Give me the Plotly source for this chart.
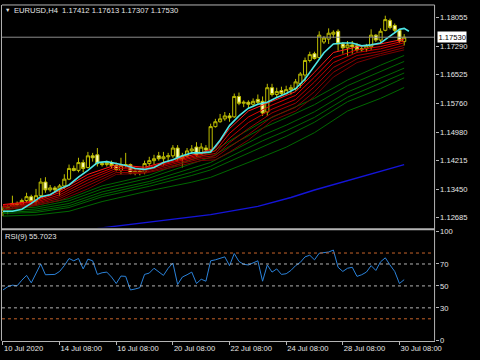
import plotly.graph_objects as go

# ---------------- data ----------------
SYMBOL = "EURUSD,H4"
BAR_IDX = list(range(86))
OPEN = [1.12835, 1.12913, 1.12991, 1.13070, 1.13043, 1.13148, 1.13252, 1.13122, 1.13278, 1.13644,
        1.13435, 1.13487, 1.13435, 1.13539, 1.13722, 1.14009, 1.13957, 1.14166, 1.14035, 1.14348,
        1.14375, 1.14140, 1.14113, 1.14166, 1.14087, 1.13957, 1.14087, 1.14113, 1.13879, 1.13931,
        1.13905, 1.14140, 1.14218, 1.14348, 1.14270, 1.14322, 1.14348, 1.14557, 1.14270, 1.14348,
        1.14479, 1.14583, 1.14401, 1.14557, 1.14505, 1.15131, 1.15262, 1.15340, 1.15419, 1.15393,
        1.15941, 1.15758, 1.15784, 1.15732, 1.15862, 1.15810, 1.15523, 1.16175, 1.15993, 1.16097,
        1.16019, 1.16123, 1.16149, 1.16280, 1.16515, 1.16906, 1.17089, 1.16985, 1.17402, 1.17480,
        1.17611, 1.17689, 1.17350, 1.17246, 1.17324, 1.17298, 1.17193, 1.17219, 1.17272, 1.17585,
        1.17454, 1.17715, 1.17976, 1.17846, 1.17715, 1.17412]
HIGH = [1.12991, 1.13017, 1.13278, 1.13122, 1.13200, 1.13357, 1.13304, 1.13461, 1.13748, 1.13774,
        1.13566, 1.13539, 1.13592, 1.13853, 1.14113, 1.14087, 1.14296, 1.14244, 1.14453, 1.14427,
        1.14557, 1.14192, 1.14218, 1.14218, 1.14166, 1.14296, 1.14427, 1.14140, 1.14009, 1.13983,
        1.14218, 1.14322, 1.14375, 1.14453, 1.14453, 1.14427, 1.14635, 1.14635, 1.14427, 1.14557,
        1.14635, 1.14714, 1.14688, 1.14635, 1.15210, 1.15340, 1.15471, 1.15523, 1.15497, 1.16019,
        1.16045, 1.15836, 1.15836, 1.15888, 1.15993, 1.15941, 1.16280, 1.16280, 1.16175, 1.16202,
        1.16228, 1.16254, 1.16410, 1.16593, 1.16985, 1.17141, 1.17141, 1.17689, 1.17559, 1.17768,
        1.17715, 1.17741, 1.17402, 1.17428, 1.17428, 1.17376, 1.17272, 1.17350, 1.17741, 1.17611,
        1.17768, 1.18107, 1.18029, 1.17898, 1.17741, 1.17613]
LOW = [1.12730, 1.12782, 1.12965, 1.12991, 1.12991, 1.13096, 1.13043, 1.13017, 1.13226, 1.13357,
       1.13383, 1.13357, 1.13278, 1.13461, 1.13696, 1.13931, 1.13905, 1.13905, 1.14009, 1.14192,
       1.14061, 1.14061, 1.14061, 1.14009, 1.13931, 1.13853, 1.14035, 1.13853, 1.13826, 1.13826,
       1.13853, 1.14061, 1.14113, 1.14218, 1.14087, 1.14192, 1.14296, 1.14218, 1.14035, 1.14296,
       1.14401, 1.14322, 1.14375, 1.14427, 1.14427, 1.15105, 1.15236, 1.15288, 1.15262, 1.15367,
       1.15706, 1.15654, 1.15627, 1.15654, 1.15732, 1.15419, 1.15419, 1.15941, 1.15914, 1.15967,
       1.15993, 1.15993, 1.16097, 1.16175, 1.16332, 1.16854, 1.16932, 1.16958, 1.17350, 1.17350,
       1.17507, 1.17167, 1.17089, 1.17037, 1.17089, 1.17141, 1.17141, 1.17141, 1.17193, 1.17402,
       1.17350, 1.17689, 1.17741, 1.17663, 1.17376, 1.17307]
CLOSE = [1.12913, 1.12965, 1.13070, 1.13043, 1.13148, 1.13252, 1.13122, 1.13278, 1.13644, 1.13435,
         1.13487, 1.13435, 1.13539, 1.13722, 1.14009, 1.13957, 1.14166, 1.14009, 1.14348, 1.14296,
         1.14140, 1.14113, 1.14166, 1.14087, 1.13983, 1.14087, 1.14113, 1.13879, 1.13931, 1.13905,
         1.14140, 1.14218, 1.14270, 1.14270, 1.14322, 1.14348, 1.14557, 1.14270, 1.14348, 1.14479,
         1.14531, 1.14375, 1.14583, 1.14505, 1.15131, 1.15262, 1.15340, 1.15419, 1.15367, 1.15941,
         1.15758, 1.15784, 1.15732, 1.15810, 1.15784, 1.15497, 1.16175, 1.15993, 1.16071, 1.16019,
         1.16123, 1.16175, 1.16332, 1.16541, 1.16906, 1.17063, 1.16958, 1.17585, 1.17507, 1.17637,
         1.17663, 1.17350, 1.17246, 1.17324, 1.17272, 1.17193, 1.17219, 1.17298, 1.17585, 1.17454,
         1.17689, 1.18002, 1.17794, 1.17715, 1.17428, 1.17530]

# fast (cyan) moving average, shifted one bar forward
CYAN_X = [0, 2, 4, 6, 8, 10, 12, 14, 16, 18, 20, 22, 24, 26, 28, 30, 32, 34, 36, 38, 40, 42, 44,
          46, 48, 50, 52, 54, 56, 58, 60, 62, 64, 66, 68, 70, 72, 74, 76, 78, 80, 82, 84, 85, 86]
CYAN = [1.12861, 1.12861, 1.12913, 1.13070, 1.13252, 1.13304, 1.13461, 1.13566, 1.13774, 1.13957,
        1.14166, 1.14192, 1.14140, 1.14087, 1.14009, 1.13983, 1.14035, 1.14166, 1.14244, 1.14348,
        1.14427, 1.14427, 1.14453, 1.14766, 1.15158, 1.15419, 1.15627, 1.15732, 1.15784, 1.15914,
        1.16019, 1.16149, 1.16410, 1.16776, 1.17115, 1.17350, 1.17376, 1.17376, 1.17298, 1.17324,
        1.17376, 1.17559, 1.17741, 1.17768, 1.17689]

# short-term (red) moving-average ribbon
RED_X = [0, 6, 12, 18, 24, 30, 36, 42, 45, 48, 52, 57, 62, 66, 70, 75, 80, 85]
RED_1 = [1.1304, 1.1312, 1.1341, 1.1385, 1.1411, 1.1404, 1.1424, 1.1443, 1.1456, 1.1508, 1.1555, 1.1581, 1.1607, 1.1659, 1.1712, 1.1727, 1.1735, 1.1748]
RED_2 = [1.1302, 1.1310, 1.1336, 1.1377, 1.1406, 1.1401, 1.1420, 1.1439, 1.1448, 1.1495, 1.1539, 1.1571, 1.1597, 1.1646, 1.1698, 1.1719, 1.1728, 1.1743]
RED_3 = [1.1298, 1.1307, 1.1330, 1.1370, 1.1401, 1.1398, 1.1417, 1.1435, 1.1441, 1.1482, 1.1524, 1.1560, 1.1586, 1.1633, 1.1685, 1.1712, 1.1722, 1.1738]
RED_4 = [1.1296, 1.1304, 1.1325, 1.1362, 1.1396, 1.1394, 1.1413, 1.1431, 1.1435, 1.1470, 1.1508, 1.1550, 1.1576, 1.1620, 1.1672, 1.1704, 1.1715, 1.1731]
RED_5 = [1.1291, 1.1302, 1.1320, 1.1354, 1.1390, 1.1390, 1.1409, 1.1427, 1.1430, 1.1458, 1.1492, 1.1539, 1.1565, 1.1607, 1.1659, 1.1695, 1.1709, 1.1725]
RED_6 = [1.1289, 1.1299, 1.1315, 1.1346, 1.1385, 1.1388, 1.1404, 1.1422, 1.1424, 1.1445, 1.1477, 1.1529, 1.1555, 1.1594, 1.1646, 1.1685, 1.1704, 1.1719]

# long-term (green) moving-average ribbon
GREEN_X = [0, 7, 14, 21, 31, 40, 44, 50, 55, 60, 66, 73, 80, 85]
GREEN_1 = [1.1297, 1.1302, 1.1320, 1.1354, 1.1383, 1.1424, 1.1443, 1.1490, 1.1526, 1.1555, 1.1589, 1.1638, 1.1678, 1.1704]
GREEN_2 = [1.1292, 1.1297, 1.1314, 1.1346, 1.1375, 1.1414, 1.1431, 1.1475, 1.1509, 1.1537, 1.1572, 1.1623, 1.1662, 1.1688]
GREEN_3 = [1.1287, 1.1292, 1.1307, 1.1338, 1.1366, 1.1401, 1.1417, 1.1457, 1.1490, 1.1517, 1.1553, 1.1606, 1.1643, 1.1670]
GREEN_4 = [1.1283, 1.1287, 1.1301, 1.1331, 1.1360, 1.1391, 1.1407, 1.1444, 1.1475, 1.1502, 1.1538, 1.1592, 1.1629, 1.1657]
GREEN_5 = [1.1280, 1.1283, 1.1296, 1.1325, 1.1353, 1.1382, 1.1397, 1.1431, 1.1460, 1.1487, 1.1525, 1.1580, 1.1615, 1.1644]
GREEN_6 = [1.1273, 1.1276, 1.1286, 1.1312, 1.1341, 1.1364, 1.1377, 1.1406, 1.1432, 1.1458, 1.1497, 1.1555, 1.1589, 1.1618]

# slow (blue) moving average
BLUE_X = [20, 33, 44, 54, 61, 66, 75, 85]
BLUE = [1.1240, 1.1260, 1.1277, 1.1299, 1.1323, 1.1343, 1.1375, 1.1411]

# RSI(9)
RSI_PERIOD = 9
RSI = [46.3, 49.2, 50.7, 50.1, 55.2, 59.6, 52.8, 61.1, 70.0, 60.2,
       60.2, 60.5, 63.2, 68.5, 75.0, 72.9, 75.0, 65.5, 74.4, 72.9,
       60.5, 62.0, 62.6, 58.1, 52.2, 59.0, 58.7, 46.3, 47.2, 48.4,
       60.5, 61.7, 66.1, 63.2, 59.6, 66.1, 70.9, 51.3, 58.1, 60.2,
       62.6, 52.2, 56.1, 54.3, 72.9, 73.8, 75.0, 76.5, 68.5, 79.5,
       72.3, 69.7, 69.1, 70.9, 72.9, 54.3, 69.1, 62.6, 65.5, 60.5,
       61.1, 64.1, 68.5, 71.5, 76.5, 78.0, 73.8, 79.8, 80.4, 80.9,
       82.7, 67.0, 63.2, 66.1, 67.0, 58.7, 60.2, 62.6, 68.5, 64.1,
       72.0, 75.6, 69.1, 63.2, 52.2, 55.7023]
RSI_LEVELS_OUTER = [80, 20]
RSI_LEVELS_INNER = [70, 50, 30]

# axis labels
PRICE_TICKS = [1.18055, 1.17290, 1.16525, 1.15760, 1.14980, 1.14215, 1.13450, 1.12685]
RSI_TICKS = [100, 70, 50, 30, 0]
TIME_TICK_IDX = [0, 12, 24, 36, 48, 60, 72, 84]
TIME_TICK_TEXT = ["10 Jul 2020", "14 Jul 08:00", "16 Jul 08:00", "20 Jul 08:00",
                  "22 Jul 08:00", "24 Jul 08:00", "28 Jul 08:00", "30 Jul 08:00"]
BID = CLOSE[-1]

# ---------------- styling ----------------
W, H = 480, 360
FONT = "Liberation Sans, Arial, sans-serif"
FS = 7.6
TXT = "#e6e6e6"
FRAME = "#b4b4b4"

XL, XR = 2 / W, 441 / W
MAIN_DOM = [1 - 229 / H, 1 - 1 / H]
RSI_DOM = [1 - 345.4 / H, 1 - 232.9 / H]
X_RANGE = [-0.21, 91.44]
Y_RANGE = [1.124306, 1.183951]

fig = go.Figure()

fig.add_trace(go.Candlestick(
    x=BAR_IDX, open=OPEN, high=HIGH, low=LOW, close=CLOSE,
    increasing=dict(line=dict(color="#bdbd00", width=1), fillcolor="#000000"),
    decreasing=dict(line=dict(color="#bdbd00", width=1), fillcolor="#ffffc0"),
    whiskerwidth=0, xaxis="x", yaxis="y", hoverinfo="skip"))

fig.add_trace(go.Scatter(x=BLUE_X, y=BLUE, mode="lines",
                         line=dict(color="#1414d8", width=1.4), xaxis="x", yaxis="y"))

for g in [GREEN_1, GREEN_2, GREEN_3, GREEN_4, GREEN_5, GREEN_6]:
    fig.add_trace(go.Scatter(x=GREEN_X, y=g, mode="lines", line=dict(color="#006800", width=1),
                             xaxis="x", yaxis="y"))

red_cols = ["#ff1a1a", "#e00000", "#c00000", "#a00000", "#8c0000", "#780000"]
for r, c in zip([RED_1, RED_2, RED_3, RED_4, RED_5, RED_6], red_cols):
    fig.add_trace(go.Scatter(x=RED_X, y=r, mode="lines", line=dict(color=c, width=1),
                             xaxis="x", yaxis="y"))

fig.add_trace(go.Scatter(x=CYAN_X, y=CYAN, mode="lines",
                         line=dict(color="#4ee6e6", width=1.6), xaxis="x", yaxis="y"))

fig.add_trace(go.Scatter(x=BAR_IDX, y=RSI, mode="lines",
                         line=dict(color="#2b82d9", width=1), xaxis="x2", yaxis="y2"))

shapes = []
# bid line
shapes.append(dict(type="line", xref="paper", yref="y", x0=XL, x1=XR, y0=BID, y1=BID,
                   line=dict(color="#8c8c8c", width=1)))
# RSI levels
for lv in RSI_LEVELS_OUTER:
    shapes.append(dict(type="line", xref="paper", yref="y2", x0=XL, x1=XR, y0=lv, y1=lv,
                       line=dict(color="#c8642a", width=1, dash="dot")))
for lv in RSI_LEVELS_INNER:
    shapes.append(dict(type="line", xref="paper", yref="y2", x0=XL, x1=XR, y0=lv, y1=lv,
                       line=dict(color="#b4b4b4", width=1, dash="dot")))
# frame
top = 1 - 1 / H
bot = 1 - 345.4 / H
shapes += [
    dict(type="line", xref="paper", yref="paper", x0=XL, x1=XR, y0=top, y1=top, line=dict(color=FRAME, width=1)),
    dict(type="line", xref="paper", yref="paper", x0=1.5 / W, x1=1.5 / W, y0=bot, y1=top, line=dict(color=FRAME, width=1)),
    dict(type="line", xref="paper", yref="paper", x0=XR, x1=XR, y0=bot, y1=top, line=dict(color=FRAME, width=1)),
    dict(type="line", xref="paper", yref="paper", x0=XL, x1=XR, y0=1 - 231 / H, y1=1 - 231 / H, line=dict(color=FRAME, width=2)),
]

annotations = [
    dict(xref="paper", yref="paper", x=3.5 / W, y=1 - 6.5 / H, text="▼", showarrow=False,
         xanchor="left", yanchor="middle", font=dict(family=FONT, size=5.5, color=TXT)),
    dict(xref="paper", yref="paper", x=12 / W, y=1 - 7 / H,
         text=f"{SYMBOL}\u00a0\u00a0{OPEN[-1]:.5f} {HIGH[-1]:.5f} {LOW[-1]:.5f} {CLOSE[-1]:.5f}",
         showarrow=False, xanchor="left", yanchor="middle", font=dict(family=FONT, size=FS, color=TXT)),
    dict(xref="paper", yref="paper", x=3 / W, y=1 - 238 / H,
         text=f"RSI({RSI_PERIOD}) {RSI[-1]:.4f}", showarrow=False, xanchor="left", yanchor="middle",
         font=dict(family=FONT, size=FS, color=TXT)),
    dict(xref="paper", yref="y", x=443 / W, y=BID, text=f"{BID:.5f}", showarrow=False,
         xanchor="left", yanchor="middle", bgcolor="#ffffff", borderpad=0.5,
         font=dict(family=FONT, size=FS, color="#000000")),
]

fig.update_layout(
    width=W, height=H, margin=dict(l=0, r=0, t=0, b=0),
    paper_bgcolor="#000000", plot_bgcolor="#000000", showlegend=False,
    boxgap=0.05, boxgroupgap=0.3,
    xaxis=dict(domain=[XL, XR], range=X_RANGE, visible=False, anchor="y",
               rangeslider=dict(visible=False), fixedrange=True),
    yaxis=dict(domain=MAIN_DOM, range=Y_RANGE, side="right", anchor="x",
               tickvals=PRICE_TICKS, ticktext=[f"{v:.5f}" for v in PRICE_TICKS],
               ticks="outside", ticklen=3, tickcolor=FRAME, showgrid=False, zeroline=False,
               showline=False, tickfont=dict(family=FONT, size=FS, color=TXT)),
    xaxis2=dict(domain=[XL, XR], range=X_RANGE, anchor="y2",
                tickvals=TIME_TICK_IDX, ticktext=TIME_TICK_TEXT, ticks="outside", ticklen=3,
                tickcolor=FRAME, ticklabelposition="outside right", showgrid=False, zeroline=False,
                showline=True, linecolor=FRAME, linewidth=1,
                tickfont=dict(family=FONT, size=FS, color=TXT)),
    yaxis2=dict(domain=RSI_DOM, range=[0, 100], side="right", anchor="x2",
                tickvals=RSI_TICKS, ticktext=[str(v) for v in RSI_TICKS],
                ticks="outside", ticklen=3, tickcolor=FRAME, showgrid=False, zeroline=False,
                showline=False, tickfont=dict(family=FONT, size=FS, color=TXT)),
    shapes=shapes, annotations=annotations,
)

fig.write_html("out.html", config={"displayModeBar": False})
